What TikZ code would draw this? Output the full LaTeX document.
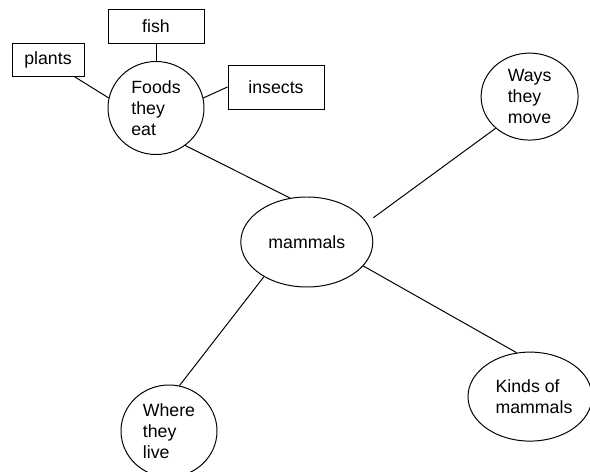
\documentclass[tikz,border=0pt]{standalone}
\usepackage{fontspec}
\setmainfont{Liberation Sans}
\usetikzlibrary{shapes.geometric}

\begin{document}
\begin{tikzpicture}[line width=0.7pt,
  box/.style={draw, rectangle, inner sep=0pt, font=\fontsize{12.6}{15}\selectfont},
  bub/.style={draw, ellipse, inner sep=0pt, align=left, font=\fontsize{12.6}{15}\selectfont}]
\useasboundingbox (0,0) rectangle (14.75,11.775);

\node[bub, minimum width=2.4cm, minimum height=2.325cm] (foods) at (3.9,9.075) {Foods\\they\\eat};
\node[box, minimum width=2.4cm, minimum height=0.85cm] (fish) at (3.9,11.125) {fish};
\node[box, minimum width=1.8cm, minimum height=0.825cm] (plants) at (1.2,10.2875) {plants};
\node[box, minimum width=2.4cm, minimum height=1.1cm] (insects) at (6.9,9.6) {insects};

\node[bub, minimum width=3.3cm, minimum height=2.25cm] (mam) at (7.67,5.725) {mammals};
\node[bub, minimum width=2.425cm, minimum height=2.175cm] (ways) at (13.24,9.36) {Ways\\they\\move};
\node[bub, minimum width=2.4cm, minimum height=2.3cm] (where) at (4.225,1.0) {Where\\they\\live};
\node[bub, minimum width=3.1cm, minimum height=2.225cm] (kinds) at (13.25,1.86) {\hspace*{0.2cm}Kinds of\\\hspace*{0.2cm}mammals};

\draw (plants.-33) -- (foods.168);
\draw (fish.south) -- (foods.north);
\draw (insects.west) -- (foods.12);
\draw (foods.-52) -- (mam.111);
\draw[shorten >=0.2cm] (ways.-137) -- (mam.18);
\draw (mam.219) -- (where.77);
\draw (mam.-23) -- (kinds.107);

\end{tikzpicture}
\end{document}
